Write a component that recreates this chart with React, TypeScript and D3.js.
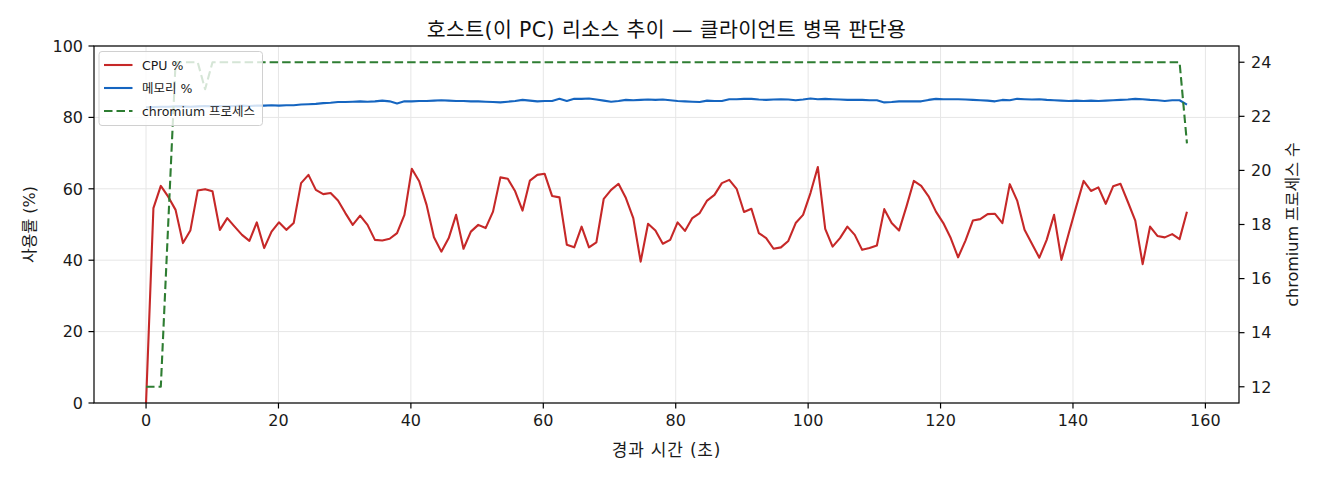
import React from 'react'
import * as d3 from 'd3'

// sampling interval of the monitor (seconds between samples)
const SAMPLE_INTERVAL = 1.115

const cpuPct = [
  0, 54.6, 60.8, 57.8, 54.1, 44.8, 48.3, 59.5, 59.9, 59.3,
  48.5, 51.8, 49.4, 47.1, 45.4, 50.6, 43.4, 48.0, 50.6, 48.5,
  50.4, 61.6, 63.9, 59.7, 58.5, 58.8, 56.7, 53.2, 49.9, 52.5,
  49.9, 45.7, 45.5, 46.0, 47.6, 52.7, 65.6, 62.1, 55.5, 46.4,
  42.4, 46.2, 52.7, 43.2, 48.0, 49.9, 49.0, 53.6, 63.2, 62.8,
  59.3, 53.9, 62.3, 63.9, 64.2, 58.0, 57.6, 44.3, 43.6, 49.4,
  43.6, 45.0, 57.2, 59.7, 61.4, 57.4, 51.8, 39.6, 50.2, 48.3,
  44.6, 45.7, 50.6, 48.2, 51.8, 53.2, 56.7, 58.3, 61.6, 62.5,
  60.0, 53.5, 54.4, 47.6, 46.2, 43.2, 43.6, 45.4, 50.4, 52.7,
  58.8, 66.1, 48.8, 43.8, 46.2, 49.4, 47.1, 42.9, 43.4, 44.1,
  54.3, 50.4, 48.3, 55.0, 62.2, 60.8, 57.9, 53.6, 50.4, 46.2,
  40.8, 45.5, 51.1, 51.5, 52.9, 53.0, 50.4, 61.3, 56.7, 48.5,
  44.6, 40.7, 45.7, 52.7, 40.1, 47.6, 55.0, 62.2, 59.4, 60.4,
  55.8, 60.7, 61.4, 56.3, 51.1, 38.9, 49.4, 46.8, 46.4, 47.3,
  45.9, 53.6,
]

const memPct = [
  82.8, 82.9, 83.0, 83.0, 83.1, 83.1, 83.0, 83.1, 83.2, 83.1,
  83.2, 83.1, 83.2, 83.3, 83.2, 83.3, 83.3, 83.4, 83.3, 83.4,
  83.4, 83.6, 83.7, 83.8, 84.0, 84.1, 84.3, 84.3, 84.4, 84.5,
  84.4, 84.5, 84.7, 84.5, 83.9, 84.5, 84.5, 84.6, 84.6, 84.7,
  84.8, 84.7, 84.6, 84.6, 84.5, 84.5, 84.4, 84.3, 84.2, 84.4,
  84.6, 84.9, 84.7, 84.5, 84.6, 84.6, 85.2, 84.6, 85.2, 85.2,
  85.3, 85.0, 84.7, 84.4, 84.6, 84.9, 84.8, 84.9, 85.0, 84.9,
  85.0, 84.8, 84.6, 84.5, 84.4, 84.3, 84.7, 84.6, 84.6, 85.1,
  85.1, 85.2, 85.2, 85.0, 84.9, 85.0, 85.1, 85.0, 84.8, 85.0,
  85.3, 85.1, 85.2, 85.1, 85.0, 84.9, 84.9, 84.9, 84.8, 84.8,
  84.2, 84.3, 84.5, 84.5, 84.5, 84.5, 84.9, 85.2, 85.1, 85.1,
  85.1, 85.0, 84.9, 84.8, 84.7, 84.5, 84.9, 84.8, 85.2, 85.1,
  85.0, 85.1, 84.9, 84.8, 84.7, 84.6, 84.7, 84.6, 84.7, 84.6,
  84.7, 84.8, 84.9, 85.0, 85.2, 85.1, 84.9, 84.8, 84.6, 84.8,
  84.8, 83.6,
]

const chromiumProcs = [
  12, 12, 12, 18, 24, 24, 24, 24, 23, 24,
  24, 24, 24, 24, 24, 24, 24, 24, 24, 24,
  24, 24, 24, 24, 24, 24, 24, 24, 24, 24,
  24, 24, 24, 24, 24, 24, 24, 24, 24, 24,
  24, 24, 24, 24, 24, 24, 24, 24, 24, 24,
  24, 24, 24, 24, 24, 24, 24, 24, 24, 24,
  24, 24, 24, 24, 24, 24, 24, 24, 24, 24,
  24, 24, 24, 24, 24, 24, 24, 24, 24, 24,
  24, 24, 24, 24, 24, 24, 24, 24, 24, 24,
  24, 24, 24, 24, 24, 24, 24, 24, 24, 24,
  24, 24, 24, 24, 24, 24, 24, 24, 24, 24,
  24, 24, 24, 24, 24, 24, 24, 24, 24, 24,
  24, 24, 24, 24, 24, 24, 24, 24, 24, 24,
  24, 24, 24, 24, 24, 24, 24, 24, 24, 24,
  24, 21,
]

const xTicks = [0, 20, 40, 60, 80, 100, 120, 140, 160]
const yTicks = [0, 20, 40, 60, 80, 100]
const y2Ticks = [12, 14, 16, 18, 20, 22, 24]

const TITLE = '호스트(이 PC) 리소스 추이 — 클라이언트 병목 판단용'
const X_LABEL = '경과 시간 (초)'
const Y_LABEL = '사용률 (%)'
const Y2_LABEL = 'chromium 프로세스 수'
const legendItems = [
  { label: 'CPU %', color: '#c62828', dash: '' },
  { label: '메모리 %', color: '#1565c0', dash: '' },
  { label: 'chromium 프로세스', color: '#2e7d32', dash: '8.5,4' },
]

const FONT = '"DejaVu Sans", "Noto Sans CJK KR", sans-serif'

export default function App() {
  const W = 1320
  const H = 480
  const m = { left: 94, right: 1239, top: 46, bottom: 403 }

  const times = cpuPct.map((_, i) => i * SAMPLE_INTERVAL)
  const tMax = d3.max(times) as number
  const pad = tMax * 0.05

  const x = d3.scaleLinear().domain([-pad, tMax + pad]).range([m.left, m.right])
  const y = d3.scaleLinear().domain([0, 100]).range([m.bottom, m.top])
  const y2 = d3.scaleLinear().domain([11.4, 24.6]).range([m.bottom, m.top])

  const line = d3
    .line<number>()
    .x((_, i) => x(times[i]))
    .y((d) => y(d))
  const line2 = d3
    .line<number>()
    .x((_, i) => x(times[i]))
    .y((d) => y2(d))

  const gridColor = '#e6e6e6'
  const tickFont = 16
  const labelFont = 16
  const ink = '#1a1a1a'

  return (
    <svg width={W} height={H} style={{ position: 'absolute', left: 0, top: 0, background: '#fff' }} fontFamily={FONT}>
      <rect x={0} y={0} width={W} height={H} fill="#fff" />
      <defs>
        <clipPath id="plot">
          <rect x={m.left} y={m.top} width={m.right - m.left} height={m.bottom - m.top} />
        </clipPath>
      </defs>

      {/* grid */}
      {xTicks.map((t) => (
        <line key={'gx' + t} x1={x(t)} x2={x(t)} y1={m.top} y2={m.bottom} stroke={gridColor} strokeWidth={1} />
      ))}
      {yTicks.map((t) => (
        <line key={'gy' + t} x1={m.left} x2={m.right} y1={y(t)} y2={y(t)} stroke={gridColor} strokeWidth={1} />
      ))}

      {/* series */}
      <g clipPath="url(#plot)" fill="none" strokeLinejoin="round">
        <path d={line(cpuPct) || ''} stroke="#c62828" strokeWidth={2.1} />
        <path d={line(memPct) || ''} stroke="#1565c0" strokeWidth={2.1} />
        <path d={line2(chromiumProcs) || ''} stroke="#2e7d32" strokeWidth={2.1} strokeDasharray="8.5,4" />
      </g>

      {/* spines */}
      <rect x={m.left} y={m.top} width={m.right - m.left} height={m.bottom - m.top} fill="none" stroke="#000" strokeWidth={1.2} />

      {/* x axis */}
      {xTicks.map((t) => (
        <g key={'xt' + t}>
          <line x1={x(t)} x2={x(t)} y1={m.bottom} y2={m.bottom + 5.5} stroke="#000" strokeWidth={1.2} />
          <text x={x(t)} y={m.bottom + 23} fontSize={tickFont} textAnchor="middle" fill={ink}>
            {t}
          </text>
        </g>
      ))}
      {/* left y axis */}
      {yTicks.map((t) => (
        <g key={'yt' + t}>
          <line x1={m.left - 5.5} x2={m.left} y1={y(t)} y2={y(t)} stroke="#000" strokeWidth={1.2} />
          <text x={m.left - 11} y={y(t)} dy="0.36em" fontSize={tickFont} textAnchor="end" fill={ink}>
            {t}
          </text>
        </g>
      ))}
      {/* right y axis */}
      {y2Ticks.map((t) => (
        <g key={'y2t' + t}>
          <line x1={m.right} x2={m.right + 5.5} y1={y2(t)} y2={y2(t)} stroke="#000" strokeWidth={1.2} />
          <text x={m.right + 12} y={y2(t)} dy="0.36em" fontSize={tickFont} textAnchor="start" fill={ink}>
            {t}
          </text>
        </g>
      ))}

      {/* labels */}
      <text x={(m.left + m.right) / 2} y={37} fontSize={20.5} letterSpacing={0.4} textAnchor="middle" fill="#111">
        {TITLE}
      </text>
      <text x={(m.left + m.right) / 2} y={456} fontSize={17} letterSpacing={0.8} textAnchor="middle" fill={ink}>
        {X_LABEL}
      </text>
      <text
        transform={`translate(35, ${(m.top + m.bottom) / 2}) rotate(-90)`}
        fontSize={labelFont}
        textAnchor="middle"
        fill={ink}
      >
        {Y_LABEL}
      </text>
      <text
        transform={`translate(1298, ${(m.top + m.bottom) / 2}) rotate(-90)`}
        fontSize={labelFont}
        textAnchor="middle"
        fill={ink}
      >
        {Y2_LABEL}
      </text>

      {/* legend */}
      <g>
        <rect x={99} y={51.5} width={163.5} height={74} rx={3} fill="#fff" fillOpacity={0.8} stroke="#d0d0d0" strokeWidth={1} />
        {legendItems.map((d, i) => (
          <g key={d.label} transform={`translate(0, ${65 + i * 23})`}>
            <line x1={104} x2={132.5} y1={0} y2={0} stroke={d.color} strokeWidth={2.1} strokeDasharray={d.dash} />
            <text x={142} y={0} dy="0.36em" fontSize={12.5} fill={ink}>
              {d.label}
            </text>
          </g>
        ))}
      </g>
    </svg>
  )
}
